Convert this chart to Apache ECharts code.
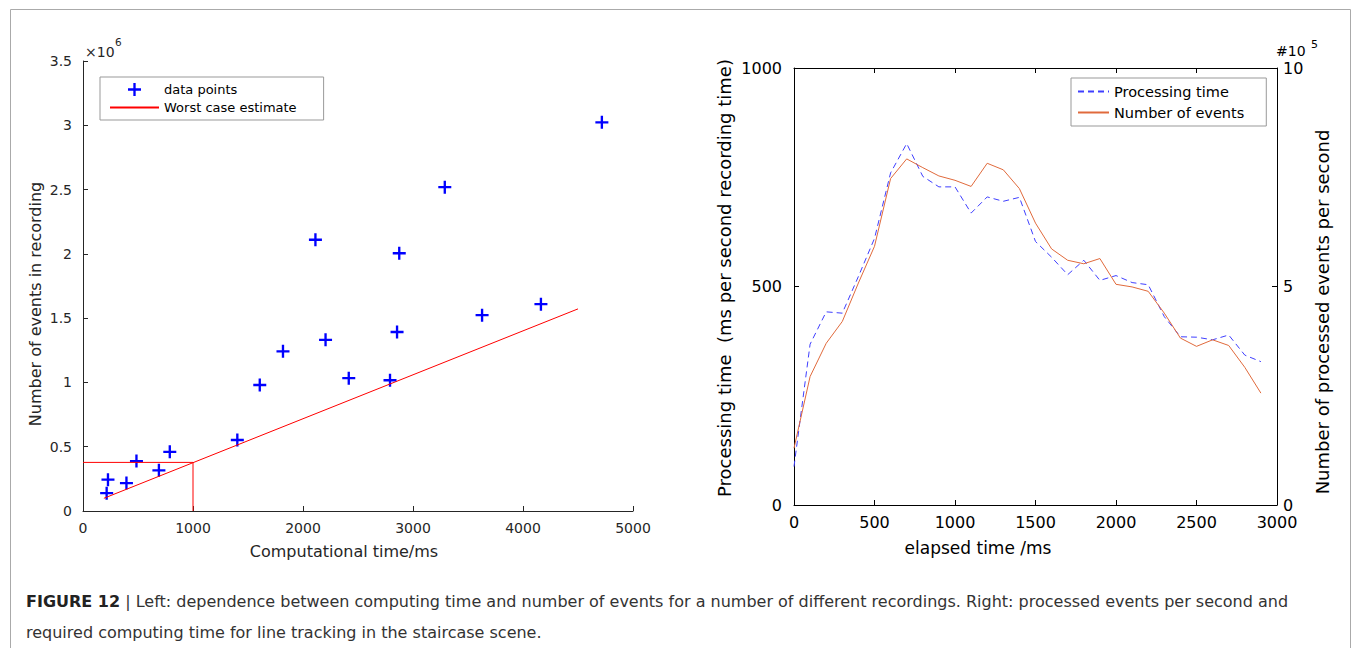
<!DOCTYPE html>
<html>
<head>
<meta charset="utf-8">
<script src="https://cdn.jsdelivr.net/npm/echarts@6/dist/echarts.min.js"></script>
<style>
html,body{margin:0;padding:0;background:#fff;}
#chart{width:1355px;height:648px;}
</style>
</head>
<body>
<div id="chart"></div>
<script>
// ---------- Left panel data ----------
const compTimeMs = [215, 227, 395, 486, 690, 789, 1403, 1607, 1818, 2113, 2205, 2416, 2791, 2855, 2875, 3289, 3628, 4163, 4717];
const eventsMillions = [0.139, 0.244, 0.217, 0.388, 0.316, 0.46, 0.552, 0.98, 1.242, 2.11, 1.331, 1.033, 1.017, 1.392, 2.005, 2.519, 1.523, 1.609, 3.023];
const worstCaseMs = [190, 4500];
const worstCaseEvents = [0.099, 1.572];
const limitMs = [0, 1000, 1000];
const limitEvents = [0.378, 0.378, 0];
const leftXTicks = [0, 1000, 2000, 3000, 4000, 5000];
const leftYTicks = [0, 0.5, 1, 1.5, 2, 2.5, 3, 3.5];

// ---------- Right panel data ----------
const elapsedMs = [0, 100, 200, 300, 400, 500, 600, 700, 800, 900, 1000, 1100, 1200, 1300, 1400, 1500, 1600, 1700, 1800, 1900, 2000, 2100, 2200, 2300, 2400, 2500, 2600, 2700, 2800, 2900];
const processingMs = [88, 368, 442, 439, 523, 610, 760, 827, 752, 728, 728, 668, 705, 695, 704, 603, 567, 527, 560, 514, 525, 509, 504, 431, 385, 384, 378, 389, 343, 328];
const eventsPerSecE5 = [1.30, 2.94, 3.70, 4.20, 5.08, 5.92, 7.47, 7.92, 7.72, 7.53, 7.43, 7.29, 7.82, 7.67, 7.24, 6.45, 5.86, 5.60, 5.52, 5.64, 5.05, 4.99, 4.89, 4.39, 3.82, 3.63, 3.78, 3.65, 3.15, 2.56];
const rightXTicks = [0, 500, 1000, 1500, 2000, 2500, 3000];
const rightYTicks = [0, 500, 1000];
const rightY2Ticks = [0, 5, 10];

const captionLine1 = ' | Left: dependence between computing time and number of events for a number of different recordings. Right: processed events per second and';
const captionLine2 = 'required computing time for line tracking in the staircase scene.';

const FONT = 'DejaVu Sans';
const zip = (a, b) => a.map((v, i) => [v, b[i]]);
const plusPath = 'path://M41,0H59V41H100V59H59V100H41V59H0V41H41Z';
const plain = v => String(v);

function valueAxis(extra) {
  return Object.assign({
    type: 'value',
    splitLine: { show: false },
    axisLine: { show: true, onZero: false, lineStyle: { color: '#262626', width: 1 } },
    axisTick: { show: true, inside: true, length: 5, lineStyle: { color: '#262626' } },
    axisLabel: { fontFamily: FONT, fontSize: 14, color: '#262626', margin: 10, formatter: plain }
  }, extra);
}

const chart = echarts.init(document.getElementById('chart'), null, { renderer: 'svg' });

function txt(x, y, text, size, opts) {
  opts = opts || {};
  return {
    type: 'text', x: x, y: y, rotation: opts.rotation || 0, silent: true,
    style: {
      text: text, fill: opts.color || '#262626',
      fontFamily: FONT, fontSize: size, fontWeight: opts.weight || 'normal',
      align: opts.align || 'center', verticalAlign: opts.valign || 'middle',
      textAlign: opts.align || 'center', textVerticalAlign: opts.valign || 'middle'
    }
  };
}

const blackAxis = {
  axisLine: { show: true, onZero: false, lineStyle: { color: '#000', width: 1 } },
  axisTick: { show: true, inside: true, length: 5, lineStyle: { color: '#000' } }
};

const option = {
  animation: false,
  backgroundColor: '#ffffff',
  grid: [
    { left: 83, top: 61, width: 550, height: 450, containLabel: false },
    { left: 794, top: 68, width: 483, height: 437, containLabel: false }
  ],
  xAxis: [
    valueAxis({ gridIndex: 0, min: leftXTicks[0], max: leftXTicks[leftXTicks.length - 1], interval: 1000, position: 'bottom' }),
    valueAxis(Object.assign({ gridIndex: 1, min: rightXTicks[0], max: rightXTicks[rightXTicks.length - 1], interval: 500, position: 'bottom',
      axisLabel: { fontFamily: FONT, fontSize: 16, color: '#000', margin: 9, formatter: plain } }, blackAxis)),
    valueAxis(Object.assign({ gridIndex: 1, min: rightXTicks[0], max: rightXTicks[rightXTicks.length - 1], interval: 500, position: 'top',
      axisLabel: { show: false } }, blackAxis))
  ],
  yAxis: [
    valueAxis({ gridIndex: 0, min: leftYTicks[0], max: leftYTicks[leftYTicks.length - 1], interval: 0.5, position: 'left',
      axisLabel: { fontFamily: FONT, fontSize: 14, color: '#262626', margin: 11, formatter: plain } }),
    valueAxis(Object.assign({ gridIndex: 1, min: rightYTicks[0], max: rightYTicks[rightYTicks.length - 1], interval: 500, position: 'left',
      axisLabel: { fontFamily: FONT, fontSize: 16, color: '#000', margin: 12, formatter: plain } }, blackAxis)),
    valueAxis(Object.assign({ gridIndex: 1, min: rightY2Ticks[0], max: rightY2Ticks[rightY2Ticks.length - 1], interval: 5, position: 'right',
      axisLabel: { fontFamily: FONT, fontSize: 16, color: '#000', margin: 6, formatter: plain } }, blackAxis))
  ],
  legend: [
    {
      data: [
        { name: 'data points', icon: plusPath },
        { name: 'Worst case estimate', itemStyle: { opacity: 0 } }
      ],
      orient: 'vertical', left: 100, top: 77,
      itemWidth: 49, itemHeight: 13, itemGap: 5,
      padding: [6, 27, 6, 9],
      borderColor: '#999999', borderWidth: 1, backgroundColor: '#fff',
      selectedMode: false, symbolKeepAspect: true,
      textStyle: { fontFamily: FONT, fontSize: 13, color: '#000' }
    },
    {
      data: [
        { name: 'Processing time', itemStyle: { opacity: 0 } },
        { name: 'Number of events', itemStyle: { opacity: 0 } }
      ],
      orient: 'vertical', left: 1071, top: 78,
      itemWidth: 31, itemHeight: 14, itemGap: 6,
      padding: [6, 22, 6, 6],
      borderColor: '#999999', borderWidth: 1, backgroundColor: '#fff',
      selectedMode: false,
      textStyle: { fontFamily: FONT, fontSize: 14.5, color: '#000' }
    }
  ],
  series: [
    {
      name: 'Worst case limit', type: 'line', xAxisIndex: 0, yAxisIndex: 0,
      data: zip(limitMs, limitEvents), symbol: 'none',
      lineStyle: { color: '#ff0000', width: 1 }, itemStyle: { color: '#ff0000' }, silent: true
    },
    {
      name: 'Worst case estimate', type: 'line', xAxisIndex: 0, yAxisIndex: 0,
      data: zip(worstCaseMs, worstCaseEvents), symbol: 'none',
      lineStyle: { color: '#ff0000', width: 1 }, itemStyle: { color: '#ff0000' }, silent: true
    },
    {
      name: 'data points', type: 'scatter', xAxisIndex: 0, yAxisIndex: 0,
      data: zip(compTimeMs, eventsMillions),
      symbol: plusPath, symbolSize: 13, symbolKeepAspect: true,
      itemStyle: { color: '#0000ff', opacity: 1 }, silent: true
    },
    {
      name: 'Processing time', type: 'line', xAxisIndex: 1, yAxisIndex: 1,
      data: zip(elapsedMs, processingMs), symbol: 'none',
      lineStyle: { color: '#3f3fff', width: 1, type: [6, 4] }, itemStyle: { color: '#3f3fff' }, silent: true
    },
    {
      name: 'Number of events', type: 'line', xAxisIndex: 1, yAxisIndex: 2,
      data: zip(elapsedMs, eventsPerSecE5), symbol: 'none',
      lineStyle: { color: '#e06a3c', width: 1 }, itemStyle: { color: '#e06a3c' }, silent: true
    }
  ],
  graphic: [
    { type: 'rect', silent: true, shape: { x: 10.5, y: 9.5, width: 1340, height: 660 },
      style: { fill: 'none', stroke: '#aaaaaa', lineWidth: 1 } },
    // left panel titles
    txt(35, 304, 'Number of events in recording', 16, { rotation: Math.PI / 2 }),
    txt(344, 551, 'Computational time/ms', 16),
    txt(85, 52, '\u00d710', 14, { align: 'left' }),
    txt(115, 42, '6', 10.5, { align: 'left' }),
    // right panel titles
    txt(724, 278, 'Processing time \u00a0(ms per second recording time)', 18, { rotation: Math.PI / 2, color: '#000' }),
    txt(1322, 312, 'Number of processed events per second', 18, { rotation: Math.PI / 2, color: '#000' }),
    txt(978, 548, 'elapsed time /ms', 17, { color: '#000' }),
    txt(1276, 51, '#10', 14, { align: 'left', color: '#000' }),
    txt(1311, 44, '5', 11, { align: 'left', color: '#000' }),
    // caption
    {
      type: 'text', x: 26, y: 601, silent: true,
      style: {
        text: '{b|FIGURE 12}' + captionLine1,
        fill: '#333', fontFamily: FONT, fontSize: 16,
        align: 'left', verticalAlign: 'middle', textAlign: 'left', textVerticalAlign: 'middle',
        rich: { b: { fontWeight: 'bold', fontFamily: FONT, fontSize: 16, fill: '#222' } }
      }
    },
    txt(26, 632, captionLine2, 16, { align: 'left', color: '#333' })
  ]
};

chart.setOption(option);
</script>
</body>
</html>
